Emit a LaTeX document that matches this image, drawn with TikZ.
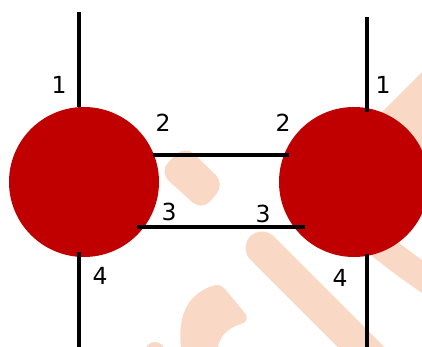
\documentclass[tikz,border=0pt]{standalone}
\usepackage{fontspec}
\setmainfont{DejaVu Sans}
\definecolor{ballred}{RGB}{192,0,0}
\definecolor{wmark}{RGB}{249,217,197}
\tikzset{
  ball/.style={circle, fill=ballred, draw=none, minimum size=150pt, inner sep=0pt},
  wire/.style={line width=3.7pt, black, line cap=butt},
  lab/.style={anchor=base, font=\fontsize{23.5}{23.5}\selectfont, inner sep=0pt},
  wm/.style={wmark, line cap=round},
}
\begin{document}
\begin{tikzpicture}[x=1pt,y=-1pt]
\useasboundingbox (0,0) rectangle (422,347);
\begin{scope}
\clip (0,0) rectangle (422,347);
% watermark background
\fill[wmark, rounded corners=13pt] (185,145) -- (225,184) -- (202,211) -- (159,172) -- cycle;
\draw[wm, line width=33pt] (262,248) -- (385,371);
\fill[wmark] (382,112) -- (430,64) -- (430,175) -- (370,175) -- cycle;
\draw[wm, line width=27pt, line cap=butt] (360,228) .. controls (385,250) and (405,265) .. (430,282);
\fill[wmark] (181,347) .. controls (178,318) and (185,296) .. (212,286)
  .. controls (218,284) and (221,285) .. (225,289) -- (244,312)
  .. controls (249,318) and (247,322) .. (241,324)
  .. controls (230,327) and (220,335) .. (218,347) -- cycle;
\fill[wmark] (155,352) circle (10);
\end{scope}
% balls
\node[ball] (L) at (84,182) {};
\node[ball] (R) at (354,182) {};
% port coordinates
\coordinate (Lt) at (79,12);   \coordinate (Ltb) at (79,107);
\coordinate (Lb) at (79,347);  \coordinate (Lbt) at (79,252);
\coordinate (Rt) at (367,17);  \coordinate (Rtb) at (367,112);
\coordinate (Rb) at (367,347); \coordinate (Rbt) at (367,254);
\coordinate (L2) at (153,155); \coordinate (R2) at (289,155);
\coordinate (L3) at (137,227); \coordinate (R3) at (305,227);
% wires
\draw[wire] (Lt) -- (Ltb);
\draw[wire] (Lbt) -- (Lb);
\draw[wire] (Rt) -- (Rtb);
\draw[wire] (Rbt) -- (Rb);
\draw[wire] (L2) -- (R2);
\draw[wire] (L3) -- (R3);
% labels
\node[lab] (l1) at (59,94) {1};
\node[lab] (r1) at (383,94) {1};
\node[lab] (l2) at (163,132) {2};
\node[lab] (r2) at (283,132) {2};
\node[lab] (l3) at (169,220) {3};
\node[lab] (r3) at (263,222) {3};
\node[lab] (l4) at (100,284) {4};
\node[lab] (r4) at (340,286) {4};
\end{tikzpicture}
\end{document}
